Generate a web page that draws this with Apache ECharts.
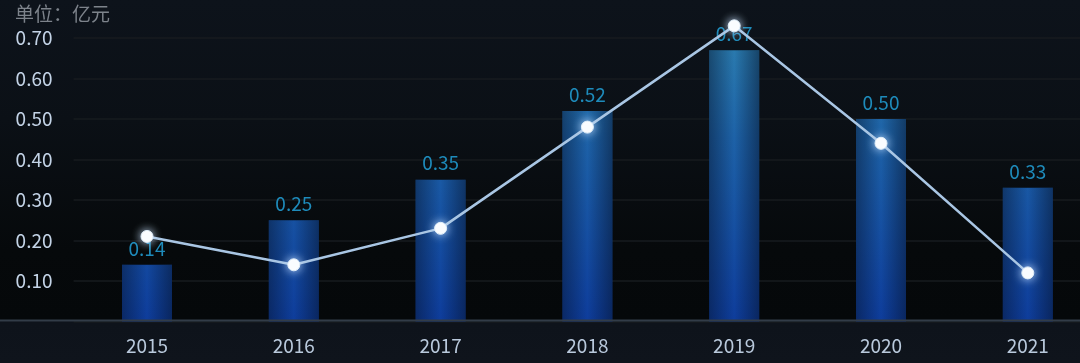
<!DOCTYPE html>
<html>
<head>
<meta charset="utf-8">
<script src="https://cdn.jsdelivr.net/npm/echarts@6/dist/echarts.min.js"></script>
<style>
html,body{margin:0;padding:0;}
body{width:1080px;height:363px;overflow:hidden;
background:linear-gradient(to bottom,#0d131b 0px,#0b1016 120px,#06090b 250px,#05080a 319px,#0e131b 322px,#0f141c 363px);}
#c{width:1080px;height:363px;}
</style>
</head>
<body>
<div id="c"></div>
<script>
const categories = ['2015','2016','2017','2018','2019','2020','2021'];
const barValues = [0.14, 0.25, 0.35, 0.52, 0.67, 0.50, 0.33];
const lineValues = [0.21, 0.14, 0.23, 0.48, 0.73, 0.44, 0.12];
const yTicks = [0.1, 0.2, 0.3, 0.4, 0.5, 0.6, 0.7];
const unitLabel = '单位：亿元';

const chart = echarts.init(document.getElementById('c'));
const font = '"Noto Sans CJK SC","Noto Sans",sans-serif';
chart.setOption({
  backgroundColor: 'transparent',
  animation: false,
  graphic: [
    {
      type: 'text', left: 15, top: 4,
      style: { text: unitLabel, fill: '#7d838b', fontSize: 19, fontFamily: font }
    },
    {
      type: 'rect', left: 0, top: 319.5, z: 10,
      shape: { width: 1080, height: 2 },
      style: { fill: '#323c48' }
    }
  ],
  grid: { left: 73.6, width: 1027.6, top: -2.5, bottom: 41.5, containLabel: false, outerBoundsMode: 'none' },
  xAxis: {
    type: 'category', data: categories,
    axisLine: { show: false },
    axisTick: { show: false },
    axisLabel: { color: '#b9c9dc', fontSize: 19, fontFamily: font, margin: 15 }
  },
  yAxis: {
    type: 'value', min: 0, max: 0.8, interval: 0.1,
    axisLine: { show: false }, axisTick: { show: false },
    splitLine: { show: true, lineStyle: { color: '#171b1f', width: 1.5 } },
    axisLabel: {
      color: '#c3d3e6', fontSize: 19, fontFamily: font, align: 'left', margin: 58,
      formatter: v => (v > 0.001 && yTicks.some(t => Math.abs(t - v) < 1e-6)) ? v.toFixed(2) : ''
    }
  },
  series: [
    {
      type: 'bar', data: barValues, barWidth: 50, z: 2,
      itemStyle: {
        color: new echarts.graphic.LinearGradient(0, 40, 0, 320, [
          { offset: 0, color: '#2b7db0' },
          { offset: 0.35, color: '#1d62a8' },
          { offset: 1, color: '#0e3d9c' }
        ], true)
      },
      label: {
        show: true, position: 'top', distance: 7,
        color: '#1e8bbb', fontSize: 19, fontFamily: font,
        formatter: p => p.value.toFixed(2)
      }
    },
    {
      type: 'bar', data: barValues, barWidth: 50, barGap: '-100%', z: 3, silent: true,
      itemStyle: {
        color: new echarts.graphic.LinearGradient(0, 0, 1, 0, [
          { offset: 0, color: 'rgba(5,15,35,0.45)' },
          { offset: 0.5, color: 'rgba(5,15,35,0)' },
          { offset: 1, color: 'rgba(5,15,35,0.5)' }
        ])
      }
    },
    {
      type: 'line', data: lineValues, z: 5,
      symbol: 'circle', symbolSize: 12,
      lineStyle: { color: '#a9c6e4', width: 2.5 },
      itemStyle: { color: '#ffffff', borderColor: '#e0eefa', borderWidth: 1, shadowColor: 'rgba(200,225,255,1)', shadowBlur: 10 }
    }
  ]
});
</script>
</body>
</html>
